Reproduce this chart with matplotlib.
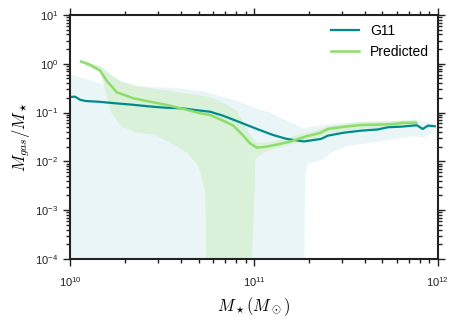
import numpy as np
import matplotlib
matplotlib.use("Agg")
import matplotlib.pyplot as plt
from matplotlib.ticker import LogLocator, FuncFormatter, NullFormatter

# log10 stellar mass / log10 gas fraction
g11_logm = [10.000, 10.027, 10.054, 10.082, 10.152, 10.245, 10.337, 10.424, 10.516,
            10.609, 10.679, 10.761, 10.832, 10.924, 11.016, 11.103, 11.179, 11.272,
            11.364, 11.402, 11.489, 11.582, 11.674, 11.728, 11.799, 11.886, 11.918,
            11.946, 11.984]
g11_med = [-0.680, -0.674, -0.736, -0.762, -0.777, -0.809, -0.838, -0.871, -0.900,
           -0.912, -0.947, -0.982, -1.064, -1.199, -1.336, -1.459, -1.541, -1.592,
           -1.541, -1.473, -1.412, -1.371, -1.346, -1.301, -1.289, -1.260, -1.336,
           -1.268, -1.281]

g11_band_logm = [10.000, 10.091, 10.181, 10.362, 10.543, 10.724, 10.815, 10.906, 10.996,
                 11.087, 11.141, 11.268, 11.270, 11.275, 11.290, 11.321, 11.375, 11.413,
                 11.504, 11.685, 11.864, 11.918, 11.973]
g11_hi = [-0.209, -0.311, -0.414, -0.449, -0.482, -0.551, -0.654, -0.756, -0.891,
          -0.994, -1.096, -1.316, -1.314, -1.310, -1.300, -1.270, -1.240, -1.234,
          -1.199, -1.166, -1.166, -1.180, -1.199]
g11_lo = [-5.0, -5.0, -5.0, -5.0, -5.0, -5.0, -5.0, -5.0, -5.0,
          -5.0, -5.0, -5.0, -5.0, -2.300, -2.050, -2.010, -1.950, -1.814,
          -1.678, -1.576, -1.473, -1.506, -1.404]

pred_logm = [10.060, 10.109, 10.163, 10.199, 10.254, 10.344, 10.435, 10.526, 10.616,
             10.707, 10.761, 10.833, 10.888, 10.942, 10.978, 11.015, 11.069, 11.141,
             11.196, 11.286, 11.359, 11.402, 11.493, 11.583, 11.674, 11.765, 11.801,
             11.882]
pred_med = [0.047, -0.018, -0.141, -0.346, -0.584, -0.707, -0.777, -0.844, -0.926,
            -1.014, -1.049, -1.166, -1.268, -1.473, -1.629, -1.719, -1.699, -1.643,
            -1.596, -1.486, -1.418, -1.336, -1.289, -1.254, -1.248, -1.234, -1.213,
            -1.207]

pred_band_logm = [10.060, 10.100, 10.163, 10.190, 10.217, 10.272, 10.362, 10.453, 10.543,
                  10.634, 10.689, 10.707, 10.734, 10.737, 10.815, 10.906, 10.960, 10.978,
                  11.005, 11.015, 11.069, 11.196, 11.321, 11.402, 11.493, 11.583, 11.674,
                  11.765, 11.882]
pred_hi = [0.064, 0.020, -0.039, -0.120, -0.209, -0.346, -0.449, -0.500, -0.551,
           -0.600, -0.630, -0.640, -0.654, -0.656, -0.756, -0.961, -1.336, -1.450,
           -1.580, -1.609, -1.609, -1.486, -1.371, -1.270, -1.220, -1.180, -1.180,
           -1.160, -1.140]
pred_lo = [0.030, -0.060, -0.141, -0.551, -0.961, -1.268, -1.404, -1.439, -1.609,
           -1.814, -2.053, -2.217, -2.627, -5.0, -5.0, -5.0, -5.0, -5.0,
           -1.951, -1.890, -1.780, -1.643, -1.541, -1.410, -1.360, -1.320, -1.310,
           -1.300, -1.270]

plt.rcParams['font.family'] = ['Liberation Sans', 'DejaVu Sans']
plt.rcParams['mathtext.fontset'] = 'cm'

fig = plt.figure(figsize=(4.58, 3.2), dpi=100)
ax = fig.add_axes([0.153, 0.191, 0.803, 0.762])

p10 = lambda a: 10 ** np.asarray(a)

ax.fill_between(p10(g11_band_logm), p10(g11_lo), p10(g11_hi), color='#eaf5f8', lw=0)
ax.fill_between(p10(pred_band_logm), p10(pred_lo), p10(pred_hi), color='#d9f0d9', lw=0)
ax.plot(p10(g11_logm), p10(g11_med), color='#008b8b', lw=1.6, label='G11')
ax.plot(p10(pred_logm), p10(pred_med), color='#8fdc6a', lw=1.8, label='Predicted')

ax.set_xscale('log')
ax.set_yscale('log')
ax.set_xlim(1e10, 1e12)
ax.set_ylim(1e-4, 1e1)

fmt = FuncFormatter(lambda v, pos: r'$\mathregular{10^{%d}}$' % int(round(np.log10(v))))
ax.xaxis.set_major_formatter(fmt)
ax.yaxis.set_major_formatter(fmt)
ax.xaxis.set_minor_formatter(NullFormatter())
ax.yaxis.set_minor_formatter(NullFormatter())
ax.yaxis.set_major_locator(LogLocator(base=10, numticks=10))
ax.yaxis.set_minor_locator(LogLocator(base=10, subs=np.arange(2, 10), numticks=10))

ax.tick_params(which='both', direction='out', top=True, right=True,
               labelsize=8, colors='#222222', width=1)
ax.tick_params(which='major', length=5)
ax.tick_params(which='minor', length=3)
ax.tick_params(axis='x', which='major', pad=7)
for s in ax.spines.values():
    s.set_linewidth(1.5)
    s.set_color('#222222')

ax.set_xlabel(r'$M_\star(M_\odot)$', fontsize=12, labelpad=4)
ax.set_ylabel(r'$M_{gas}/M_\star$', fontsize=12, labelpad=2)

ax.legend(loc='upper right', frameon=False, fontsize=10, bbox_to_anchor=(1.01, 1.015))

fig.savefig('out.png', dpi=100)
